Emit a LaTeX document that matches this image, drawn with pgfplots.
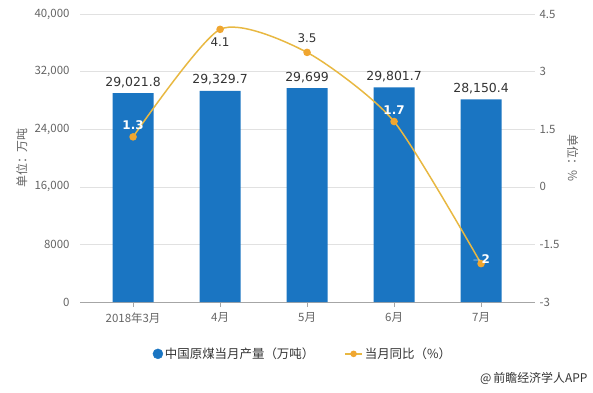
\documentclass[border=0pt]{standalone}
\usepackage{pgfplots}
\pgfplotsset{compat=1.18}
\usepackage{fontspec}
\setmainfont{Noto Sans CJK SC}
\newfontfamily\dv{DejaVu Sans}
\definecolor{barblue}{RGB}{26,117,194}
\definecolor{linegold}{RGB}{232,184,66}
\definecolor{mkorange}{RGB}{240,166,48}
\definecolor{txtgray}{RGB}{100,100,100}
\definecolor{dark}{RGB}{51,51,51}
\definecolor{gridgray}{RGB}{225,225,225}
\begin{document}
\begin{tikzpicture}[x=1bp,y=1bp]
\useasboundingbox (0,0) rectangle (593,392);
\begin{axis}[at={(80bp,90bp)}, anchor=south west, scale only axis,
  width=455bp, height=288bp,
  xmin=-0.61, xmax=4.62, ymin=0, ymax=40000,
  ytick={0,8000,16000,24000,32000,40000},
  yticklabels={0,8000,{16,000},{24,000},{32,000},{40,000}},
  xtick={0,1,2,3,4},
  xticklabels={2018年3月,4月,5月,6月,7月},
  axis x line*=bottom, axis y line*=left,
  y axis line style={draw=none},
  x axis line style={draw=gray!70, -},
  ytick style={draw=none},
  xtick style={draw=gray!70},
  major tick length=5bp,
  tick align=outside,
  ymajorgrids, grid style={gridgray},
  scaled y ticks=false,
  /pgf/number format/assume math mode=true,
  tick label style={font=\fontsize{11.5}{13}\selectfont, text=txtgray},
  yticklabel style={xshift=-2bp},
  xticklabel style={yshift=-2bp},
  ylabel={单位：万吨}, ylabel style={font=\fontsize{12}{13}\selectfont, text=txtgray, at={(axis description cs:-0.128,0.5)}, anchor=center},
  clip=false,
]
\addplot[ybar, bar width=41bp, fill=barblue, draw=none,
  nodes near coords, point meta=explicit symbolic,
  nodes near coords style={font=\dv\fontsize{12.5}{13}\selectfont, text=dark, yshift=2bp}]
  coordinates {(0,29021.8)[29,021.8] (1,29329.7)[29,329.7] (2,29699)[29,699] (3,29801.7)[29,801.7] (4,28150.4)[28,150.4]};
\end{axis}
\begin{axis}[at={(80bp,90bp)}, anchor=south west, scale only axis,
  width=455bp, height=288bp,
  xmin=-0.61, xmax=4.62, ymin=-3, ymax=4.5,
  ytick={-3,-1.5,0,1.5,3,4.5},
  yticklabels={-3,-1.5,0,1.5,3,4.5},
  axis y line*=right, axis x line=none,
  y axis line style={draw=none},
  ytick style={draw=none},
  /pgf/number format/assume math mode=true,
  tick label style={font=\fontsize{11.5}{13}\selectfont, text=txtgray},
  yticklabel style={xshift=1bp},
  ylabel={单位：\%}, ylabel style={font=\fontsize{12}{13}\selectfont, text=txtgray, at={(axis description cs:1.083,0.5)}, anchor=center, rotate=180},
  clip=false,
  legend style={at={(0.49,-0.18)}, anchor=center, draw=none, fill=none,
    legend columns=2, font=\fontsize{12.5}{13}\selectfont, text=dark,
    /tikz/every even column/.append style={column sep=28bp}},
  legend cell align=left,
]
\addlegendimage{only marks, mark=*, mark size=5bp, color=barblue}
\addlegendentry{中国原煤当月产量（万吨）}
\addlegendimage{linegold, line width=1.5pt, mark=*, mark size=2.5bp, mark options={fill=mkorange, draw=mkorange}}
\addlegendentry{当月同比（\%）}
\addplot[linegold, line width=1.5pt, smooth, tension=0.4, mark=*, mark size=3bp, mark options={fill=mkorange, draw=mkorange}]
  coordinates {(0,1.3) (1,4.1) (2,3.5) (3,1.7) (4,-2)};
\addplot[draw=none, mark=none, nodes near coords, point meta=explicit symbolic,
  nodes near coords style={font=\dv\bfseries\fontsize{12}{13}\selectfont, text=white, anchor=south, yshift=4bp}]
  coordinates {(0,1.3)[1.3] (3,1.7)[1.7]};
\addplot[draw=none, mark=none, nodes near coords, point meta=explicit symbolic,
  nodes near coords style={font=\dv\bfseries\fontsize{12}{13}\selectfont, text=white, anchor=center, yshift=4bp}]
  coordinates {(4,-2)[$-$2]};
\addplot[draw=none, mark=none, nodes near coords, point meta=explicit symbolic,
  nodes near coords style={font=\dv\fontsize{12}{13}\selectfont, text=dark, anchor=north, yshift=-5bp}]
  coordinates {(1,4.1)[4.1]};
\addplot[draw=none, mark=none, nodes near coords, point meta=explicit symbolic,
  nodes near coords style={font=\dv\fontsize{12}{13}\selectfont, text=dark, anchor=south, yshift=6bp}]
  coordinates {(2,3.5)[3.5]};
\end{axis}
\node[anchor=east, font=\fontsize{12}{13}\selectfont, text=dark] at (591,14) {@\,前瞻经济学人APP};
\end{tikzpicture}
\end{document}
